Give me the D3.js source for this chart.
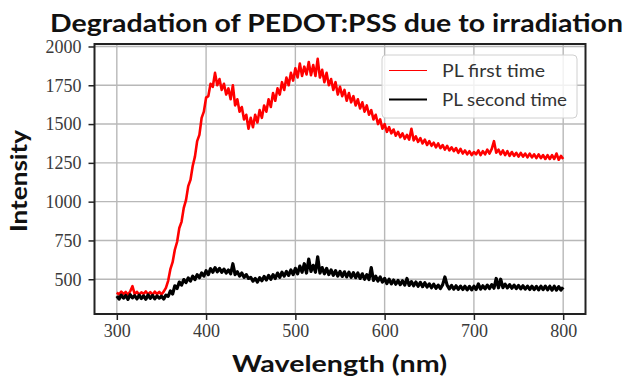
<!DOCTYPE html>
<html>
<head>
<meta charset="utf-8">
<script src="https://cdn.jsdelivr.net/npm/d3@7"></script>
<style>
  body { margin: 0; background: #fff; }
</style>
</head>
<body>
<div id="chart"></div>
<script>
// wavelength grid of the spectra (nm)
const wlStart = 300, wlStep = 2.5;

// PL first time, one value every 2.5 nm from 300 to 800 nm
const plFirst = [
  415, 402, 420, 405, 418, 400, 422, 455, 404, 419, 401, 416, 406, 421, 403, 417, 400, 420, 405, 418,
  402, 420, 445, 490, 565, 610, 690, 740, 830, 870, 960, 1010, 1100, 1140, 1230, 1290, 1390, 1430, 1540, 1580,
  1670, 1680, 1760, 1740, 1830, 1750, 1790, 1720, 1760, 1690, 1730, 1660, 1750, 1620, 1660, 1580, 1610, 1530, 1560, 1470,
  1540, 1480, 1560, 1510, 1590, 1540, 1620, 1580, 1660, 1610, 1700, 1650, 1730, 1690, 1770, 1720, 1800, 1750, 1830, 1780,
  1860, 1800, 1890, 1810, 1870, 1820, 1900, 1815, 1880, 1810, 1920, 1800, 1850, 1770, 1830, 1750, 1790, 1720, 1770, 1690,
  1740, 1680, 1720, 1650, 1700, 1640, 1680, 1620, 1660, 1600, 1640, 1580, 1620, 1560, 1590, 1530, 1560, 1500, 1530, 1470,
  1500, 1450, 1480, 1440, 1465, 1425, 1450, 1415, 1440, 1405, 1430, 1400, 1470, 1395, 1420, 1385, 1410, 1375, 1400, 1365,
  1390, 1360, 1380, 1350, 1375, 1345, 1365, 1335, 1360, 1330, 1350, 1325, 1345, 1315, 1340, 1310, 1330, 1305, 1325, 1300,
  1320, 1305, 1330, 1300, 1325, 1305, 1335, 1310, 1340, 1390, 1315, 1335, 1305, 1330, 1300, 1325, 1295, 1320, 1295, 1315,
  1290, 1315, 1290, 1310, 1285, 1310, 1285, 1305, 1280, 1305, 1280, 1300, 1275, 1300, 1275, 1300, 1275, 1310, 1270, 1295,
  1275
];

// PL second time, same grid
const plSecond = [
  392, 372, 398, 378, 395, 370, 400, 380, 394, 373, 397, 376, 393, 371, 399, 377, 396, 374, 392, 378,
  390, 372, 398, 390, 425, 405, 458, 440, 482, 462, 498, 478, 508, 488, 520, 498, 530, 510, 540, 520,
  555, 530, 568, 545, 575, 548, 570, 545, 565, 540, 560, 535, 600, 530, 548, 520, 540, 512, 530, 505,
  512, 488, 505, 482, 510, 490, 518, 495, 525, 500, 530, 505, 540, 512, 545, 520, 550, 525, 560, 530,
  570, 535, 585, 545, 600, 540, 630, 550, 590, 545, 645, 540, 575, 535, 570, 530, 560, 525, 555, 520,
  550, 518, 548, 515, 545, 512, 542, 510, 540, 505, 535, 500, 530, 498, 575, 492, 520, 488, 515, 482,
  505, 472, 500, 470, 495, 468, 492, 465, 490, 462, 505, 460, 485, 458, 482, 455, 480, 452, 478, 450,
  470, 445, 468, 442, 462, 440, 465, 515, 462, 438, 460, 436, 458, 435, 456, 434, 455, 432, 454, 432,
  455, 434, 470, 436, 458, 438, 462, 440, 465, 442, 505, 445, 500, 446, 468, 444, 465, 442, 462, 440,
  460, 438, 458, 436, 456, 434, 455, 433, 454, 432, 455, 433, 456, 432, 455, 430, 455, 430, 452, 430,
  448
];

const seriesNames = ["PL first time", "PL second time"];
const seriesColors = ["#ff0000", "#000000"];
const xTicks = [300, 400, 500, 600, 700, 800];
const yTicks = [500, 750, 1000, 1250, 1500, 1750, 2000];

const width = 628, height = 380;
const margin = { top: 44, right: 42.5, bottom: 66, left: 94.5 };
const innerW = width - margin.left - margin.right;
const innerH = height - margin.top - margin.bottom;

const wavelength = plFirst.map((d, i) => wlStart + i * wlStep);

const svg = d3.select("#chart").append("svg")
  .attr("width", width)
  .attr("height", height);

const g = svg.append("g")
  .attr("transform", "translate(" + margin.left + "," + margin.top + ")");

const x = d3.scaleLinear().domain([275, 825]).range([0, innerW]);
const y = d3.scaleLinear().domain([276, 2016]).range([innerH, 0]);

// grid
g.append("g").selectAll("line").data(xTicks).enter().append("line")
  .attr("x1", d => x(d)).attr("x2", d => x(d))
  .attr("y1", 0).attr("y2", innerH)
  .attr("stroke", "#b8b8b8").attr("stroke-width", 1.4);
g.append("g").selectAll("line").data(yTicks).enter().append("line")
  .attr("x1", 0).attr("x2", innerW)
  .attr("y1", d => y(d)).attr("y2", d => y(d))
  .attr("stroke", "#b8b8b8").attr("stroke-width", 1.4);

// spectra
g.append("clipPath").attr("id", "clip").append("rect")
  .attr("width", innerW).attr("height", innerH);

const line = d3.line()
  .x(d => x(d[0]))
  .y(d => y(d[1]));

const series = [plFirst, plSecond];
series.forEach((vals, k) => {
  g.append("path")
    .datum(vals.map((v, i) => [wavelength[i], v]))
    .attr("clip-path", "url(#clip)")
    .attr("fill", "none")
    .attr("stroke", seriesColors[k])
    .attr("stroke-width", k === 0 ? 2.6 : 3.2)
    .attr("stroke-linejoin", "round")
    .attr("d", line);
});

// axes
const xAxis = g.append("g")
  .attr("transform", "translate(0," + innerH + ")")
  .call(d3.axisBottom(x).tickValues(xTicks).tickFormat(d3.format("d")).tickSize(6).tickPadding(4));
const yAxis = g.append("g")
  .call(d3.axisLeft(y).tickValues(yTicks).tickFormat(d3.format("d")).tickSize(6).tickPadding(7));

[xAxis, yAxis].forEach(a => {
  a.select(".domain").remove();
  a.selectAll(".tick line").attr("stroke", "#222").attr("stroke-width", 1.5);
  a.selectAll(".tick text")
    .attr("fill", "#3a3a3a")
    .style("font-family", "'Liberation Serif', serif")
    .style("font-size", "18px");
});

// frame
g.append("rect")
  .attr("width", innerW).attr("height", innerH)
  .attr("fill", "none").attr("stroke", "#222").attr("stroke-width", 2);

// title and labels (stretched to the widths of the original lettering)
function label(txt, size, weight, len) {
  return svg.append("text")
    .attr("text-anchor", "middle")
    .attr("textLength", len)
    .attr("lengthAdjust", "spacingAndGlyphs")
    .style("font-family", "Lato, sans-serif")
    .style("font-weight", weight)
    .style("font-size", size + "px")
    .attr("fill", "#111")
    .text(txt);
}

label("Degradation of PEDOT:PSS due to irradiation", 24, "bold", 573)
  .attr("x", 336.5).attr("y", 31.5);

label("Wavelength (nm)", 23, "bold", 215)
  .attr("x", 339.5).attr("y", 371.5);

label("Intensity", 23, "bold", 102)
  .attr("transform", "translate(27,181) rotate(-90)");

// legend
const legend = svg.append("g").attr("transform", "translate(382,55)");
legend.append("rect")
  .attr("width", 195).attr("height", 63).attr("rx", 4)
  .attr("fill", "#fff").attr("fill-opacity", 0.8)
  .attr("stroke", "#d0d0d0").attr("stroke-width", 1);
const legendLens = [103, 125];
seriesNames.forEach((name, k) => {
  const ly = 15.5 + k * 29;
  legend.append("line")
    .attr("x1", 7).attr("x2", 45).attr("y1", ly).attr("y2", ly)
    .attr("stroke", seriesColors[k]).attr("stroke-width", k === 0 ? 1 : 2);
  legend.append("text")
    .attr("x", 60).attr("y", ly + 6.5)
    .attr("textLength", legendLens[k])
    .attr("lengthAdjust", "spacingAndGlyphs")
    .style("font-family", "Lato, sans-serif")
    .style("font-size", "17px")
    .attr("fill", "#333")
    .text(name);
});
</script>
</body>
</html>
